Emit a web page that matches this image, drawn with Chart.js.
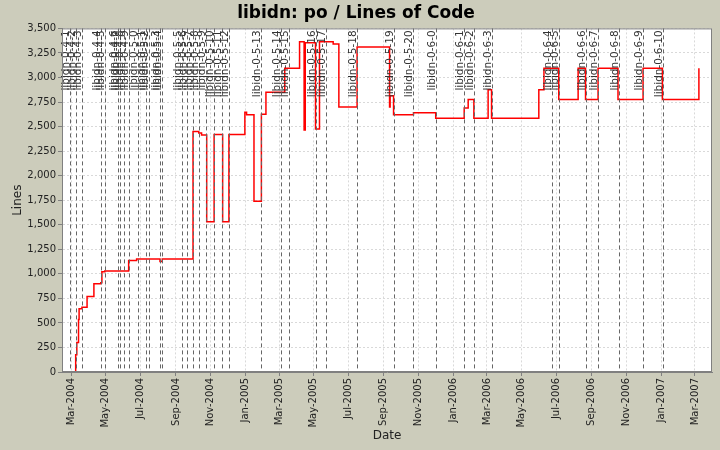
<!DOCTYPE html>
<html>
<head>
<meta charset="utf-8">
<script src="https://cdn.jsdelivr.net/npm/chart.js@4.4.1/dist/chart.umd.min.js"></script>
<style>
  html, body { margin: 0; padding: 0; background: #ccccbb; }
</style>
</head>
<body>
<canvas id="chart" width="720" height="450"></canvas>
<script>
// lines of code, value holds from that date until the next one
const stepDates = [
  "2004-03-09", "2004-03-09", "2004-03-11", "2004-03-14", "2004-03-15", "2004-03-20", "2004-03-29",
  "2004-04-10", "2004-04-22", "2004-04-24", "2004-04-29", "2004-06-10", "2004-06-24", "2004-08-04",
  "2004-08-08", "2004-10-01", "2004-10-11", "2004-10-16", "2004-10-25", "2004-11-07", "2004-11-22",
  "2004-12-03", "2004-12-31", "2005-01-03", "2005-01-16", "2005-01-29", "2005-02-06", "2005-03-11",
  "2005-04-06", "2005-04-14", "2005-04-16", "2005-05-04", "2005-05-11", "2005-06-04", "2005-06-14",
  "2005-07-16", "2005-09-11", "2005-09-12", "2005-09-18", "2005-10-23", "2005-12-01", "2006-01-20",
  "2006-01-27", "2006-02-06", "2006-03-03", "2006-03-09", "2006-05-31", "2006-06-09", "2006-07-05",
  "2006-08-08", "2006-08-21", "2006-09-12", "2006-10-17", "2006-11-30", "2007-01-03", "2007-03-08"
];
const stepLines = [
  0, 175, 300, 535, 645, 660, 770,
  900, 910, 1020, 1030, 1135, 1150, 1125,
  1150, 2450, 2435, 2415, 1530, 2420, 1530,
  2420, 2645, 2620, 1740, 2625, 2850, 3095,
  3365, 2465, 3355, 2475, 3365, 3340, 2700,
  3310, 2700, 2815, 2620, 2640, 2585, 2690,
  2775, 2585, 2875, 2585, 2875, 3095, 2775,
  3095, 2775, 3095, 2775, 3095, 2775, 3095
];

// release tags
const releaseNames = [
  "libidn-0-4-1", "libidn-0-4-2", "libidn-0-4-3", "libidn-0-4-4", "libidn-0-4-5", "libidn-0-4-6",
  "libidn-0-4-7", "libidn-0-4-8", "libidn-0-4-9", "libidn-0-5-0", "libidn-0-5-1", "libidn-0-5-2",
  "libidn-0-5-3", "libidn-0-5-4", "libidn-0-5-5", "libidn-0-5-6", "libidn-0-5-7", "libidn-0-5-8",
  "libidn-0-5-9", "libidn-0-5-10", "libidn-0-5-11", "libidn-0-5-12", "libidn-0-5-13", "libidn-0-5-14",
  "libidn-0-5-15", "libidn-0-5-16", "libidn-0-5-17", "libidn-0-5-18", "libidn-0-5-19", "libidn-0-5-20",
  "libidn-0-6-0", "libidn-0-6-1", "libidn-0-6-2", "libidn-0-6-3", "libidn-0-6-4", "libidn-0-6-5",
  "libidn-0-6-6", "libidn-0-6-7", "libidn-0-6-8", "libidn-0-6-9", "libidn-0-6-10"
];
const releaseDates = [
  "2004-02-28", "2004-03-09", "2004-03-20", "2004-04-22", "2004-04-30", "2004-05-22",
  "2004-05-26", "2004-06-01", "2004-06-11", "2004-06-26", "2004-07-11", "2004-07-15",
  "2004-08-04", "2004-08-08", "2004-09-11", "2004-09-20", "2004-10-01", "2004-10-11",
  "2004-10-23", "2004-11-06", "2004-11-20", "2004-12-03", "2005-01-28", "2005-03-04",
  "2005-03-18", "2005-05-04", "2005-05-22", "2005-07-16", "2005-09-18", "2005-10-23",
  "2005-12-01", "2006-01-19", "2006-02-06", "2006-03-09", "2006-06-24", "2006-07-05",
  "2006-08-21", "2006-09-12", "2006-10-18", "2006-11-30", "2007-01-04"
];

const tickMonths = [
  "2004-03", "2004-05", "2004-07", "2004-09", "2004-11",
  "2005-01", "2005-03", "2005-05", "2005-07", "2005-09", "2005-11",
  "2006-01", "2006-03", "2006-05", "2006-07", "2006-09", "2006-11",
  "2007-01", "2007-03"
];
const monthNames = ["Jan", "Feb", "Mar", "Apr", "May", "Jun", "Jul", "Aug", "Sep", "Oct", "Nov", "Dec"];

const FONT = '"DejaVu Sans", sans-serif';

const toTime = (s) => Date.UTC(+s.slice(0, 4), +s.slice(5, 7) - 1, s.length > 7 ? +s.slice(8, 10) : 1);

const points = stepDates.map((d, i) => ({ x: toTime(d), y: stepLines[i] }));

// white plot, border and the release markers
const plotFrame = {
  id: "plotFrame",
  beforeDraw(chart) {
    const { ctx, chartArea: a } = chart;
    ctx.save();
    ctx.fillStyle = "#ccccbb";
    ctx.fillRect(0, 0, chart.width, chart.height);
    ctx.fillStyle = "#ffffff";
    ctx.fillRect(a.left, a.top, a.right - a.left, a.bottom - a.top);
    ctx.restore();
  },
  afterDatasetsDraw(chart) {
    const { ctx, chartArea: a } = chart;
    const xs = chart.scales.x;
    ctx.save();
    ctx.strokeStyle = "#666666";
    ctx.lineWidth = 1;
    ctx.setLineDash([4, 3]);
    releaseDates.forEach(function (d) {
      const px = Math.round(xs.getPixelForValue(toTime(d))) + 0.5;
      ctx.beginPath();
      ctx.moveTo(px, a.top);
      ctx.lineTo(px, a.bottom);
      ctx.stroke();
    });
    ctx.setLineDash([]);
    ctx.fillStyle = "#333333";
    ctx.font = "10.5px " + FONT;
    ctx.textAlign = "right";
    ctx.textBaseline = "alphabetic";
    releaseDates.forEach(function (d, i) {
      const px = Math.round(xs.getPixelForValue(toTime(d)));
      ctx.save();
      ctx.translate(px - 1, a.top + 2);
      ctx.rotate(-Math.PI / 2);
      ctx.fillText(releaseNames[i], 0, 0);
      ctx.restore();
    });
    ctx.restore();
  },
  afterDraw(chart) {
    const { ctx, chartArea: a } = chart;
    ctx.save();
    ctx.strokeStyle = "#808080";
    ctx.lineWidth = 1;
    ctx.strokeRect(a.left + 0.5, a.top + 0.5, a.right - a.left - 1, a.bottom - a.top - 1);
    ctx.restore();
  }
};

const chart = new Chart(document.getElementById("chart"), {
  type: "line",
  data: {
    datasets: [
      {
        label: "Lines",
        data: points,
        borderColor: "#ff0000",
        borderWidth: 1.5,
        stepped: true,
        pointRadius: 0,
        fill: false
      }
    ]
  },
  options: {
    responsive: false,
    animation: false,
    layout: { padding: { left: 0, right: 8, top: 0, bottom: 0 } },
    plugins: {
      legend: { display: false },
      tooltip: { enabled: false },
      title: {
        display: true,
        text: "libidn: po / Lines of Code",
        color: "#000000",
        font: { family: FONT, size: 17, weight: "bold" },
        padding: { top: 3, bottom: 5 }
      }
    },
    scales: {
      x: {
        type: "linear",
        min: toTime("2004-02-14"),
        max: toTime("2007-03-31"),
        afterBuildTicks: function (scale) {
          scale.ticks = tickMonths.map((m) => ({ value: toTime(m) }));
        },
        afterFit: function (scale) {
          scale.height = 78;
        },
        ticks: {
          autoSkip: false,
          minRotation: 90,
          maxRotation: 90,
          padding: 2,
          color: "#222222",
          font: { family: FONT, size: 10 },
          callback: function (v) {
            const d = new Date(v);
            return monthNames[d.getUTCMonth()] + "-" + d.getUTCFullYear();
          }
        },
        grid: {
          color: "#d9d9d9",
          tickColor: "#808080",
          tickLength: 4,
          tickBorderDash: []
        },
        border: { color: "#808080", dash: [2, 2] },
        title: {
          display: true,
          text: "Date",
          color: "#222222",
          font: { family: FONT, size: 12 },
          padding: { top: 0, bottom: 7 }
        }
      },
      y: {
        min: 0,
        max: 3500,
        afterFit: function (scale) {
          scale.width = 62;
        },
        ticks: {
          stepSize: 250,
          padding: 2,
          color: "#222222",
          font: { family: FONT, size: 10 }
        },
        grid: {
          color: "#d9d9d9",
          tickColor: "#808080",
          tickLength: 4,
          tickBorderDash: []
        },
        border: { color: "#808080", dash: [2, 2] },
        title: {
          display: true,
          text: "Lines",
          color: "#222222",
          font: { family: FONT, size: 12 },
          padding: { top: 11, bottom: 0 }
        }
      }
    }
  },
  plugins: [plotFrame]
});
</script>
</body>
</html>
